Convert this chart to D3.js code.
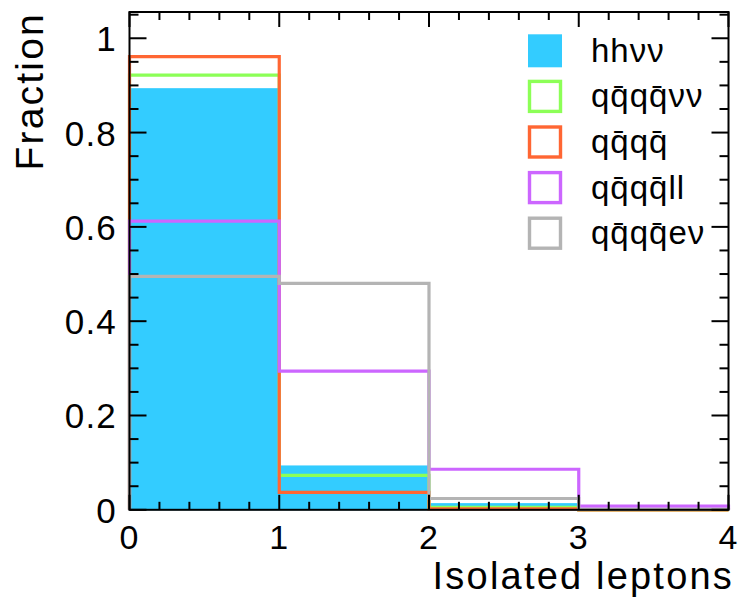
<!DOCTYPE html>
<html>
<head>
<meta charset="utf-8">
<script src="https://cdn.jsdelivr.net/npm/d3@7"></script>
<style>
  html, body { margin: 0; padding: 0; background: #fff; }
  text { font-family: "Liberation Sans", Arial, Helvetica, sans-serif; fill: #000; }
</style>
</head>
<body>
<svg id="chart" width="741" height="604"></svg>
<script>
// ---- data ----
const binEdges = [0, 1, 2, 3, 4];
const seriesNames = ["hhνν", "qq̄qq̄νν", "qq̄qq̄", "qq̄qq̄ll", "qq̄qq̄eν"];
const hhvv      = [0.893, 0.093, 0.013, 0.001];
const qqqqvv    = [0.922, 0.073, 0.005, 0.000];
const qqqq      = [0.961, 0.037, 0.002, 0.000];
const qqqqll    = [0.612, 0.294, 0.086, 0.008];
const qqqqev    = [0.495, 0.480, 0.024, 0.001];
const seriesColors = ["#33ccff", "#8cff57", "#ff6633", "#cc66ff", "#b4b4b4"];
const xTickValues = [0, 1, 2, 3, 4];
const yTickValues = [0, 0.2, 0.4, 0.6, 0.8, 1];
const yTickLabels = ["0", "0.2", "0.4", "0.6", "0.8", "1"];
const xTitle = "Isolated leptons";
const yTitle = "Fraction";

const seriesValues = [hhvv, qqqqvv, qqqq, qqqqll, qqqqev];

// ---- layout ----
const svg = d3.select("#chart");
const L = 129.5, R = 728.5, T = 12, B = 509.8;
const x = d3.scaleLinear().domain([0, 4]).range([L, R]);
const y = d3.scaleLinear().domain([0, 1.0557]).range([B, T]);

function stepPoints(vals) {
  const pts = [[binEdges[0], 0]];
  vals.forEach((v, i) => {
    pts.push([binEdges[i], v]);
    pts.push([binEdges[i + 1], v]);
  });
  pts.push([binEdges[binEdges.length - 1], 0]);
  return pts;
}
const line = d3.line().x(d => x(d[0])).y(d => y(d[1]));

const g = svg.append("g");
// filled hhvv
g.append("path")
  .attr("d", line(stepPoints(hhvv)) + "Z")
  .attr("fill", seriesColors[0])
  .attr("stroke", seriesColors[0])
  .attr("stroke-width", 1);

// outlined others
for (let s = 1; s < seriesValues.length; s++) {
  g.append("path")
    .attr("d", line(stepPoints(seriesValues[s])))
    .attr("fill", "none")
    .attr("stroke", seriesColors[s])
    .attr("stroke-width", 3.2)
    .attr("stroke-linejoin", "miter");
}

// ---- axes (ticks inward on all four sides) ----
const xMinor = d3.range(0, 4.0001, 0.2);
const yMinor = d3.range(0, 1.0501, 0.05);
const tk = svg.append("g").attr("stroke", "#000").attr("stroke-width", 2);
xMinor.forEach(v => {
  const major = Math.abs(v - Math.round(v)) < 1e-6;
  const len = major ? 15 : 8;
  tk.append("line").attr("x1", x(v)).attr("x2", x(v)).attr("y1", B).attr("y2", B - len);
  tk.append("line").attr("x1", x(v)).attr("x2", x(v)).attr("y1", T).attr("y2", T + len);
});
yMinor.forEach(v => {
  const major = Math.abs(v * 5 - Math.round(v * 5)) < 1e-6;
  const len = major ? 17 : 9;
  tk.append("line").attr("x1", L).attr("x2", L + len).attr("y1", y(v)).attr("y2", y(v));
  tk.append("line").attr("x1", R).attr("x2", R - len).attr("y1", y(v)).attr("y2", y(v));
});

// frame
svg.append("rect")
  .attr("x", L).attr("y", T).attr("width", R - L).attr("height", B - T)
  .attr("fill", "none").attr("stroke", "#000").attr("stroke-width", 2);

// tick labels
svg.append("g").selectAll("text").data(xTickValues).join("text")
  .attr("x", d => x(d)).attr("y", 549)
  .attr("text-anchor", "middle")
  .attr("font-size", 34)
  .attr("letter-spacing", 1.2)
  .text(d => d);
svg.append("g").selectAll("text").data(yTickValues).join("text")
  .attr("x", 117).attr("y", d => y(d) + 13)
  .attr("text-anchor", "end")
  .attr("font-size", 35)
  .attr("letter-spacing", 1.2)
  .text((d, i) => yTickLabels[i]);

// axis titles
svg.append("text")
  .attr("x", 734).attr("y", 589)
  .attr("text-anchor", "end")
  .attr("font-size", 38)
  .attr("letter-spacing", 2.2)
  .text(xTitle);
svg.append("text")
  .attr("transform", "translate(43,12) rotate(-90)")
  .attr("text-anchor", "end")
  .attr("font-size", 39)
  .attr("letter-spacing", 2.2)
  .text(yTitle);

// ---- legend ----
const legY0 = 50.8, legDy = 45.6;
const leg = svg.append("g");
seriesNames.forEach((name, i) => {
  const cy = legY0 + i * legDy;
  if (i === 0) {
    leg.append("rect").attr("x", 528).attr("y", cy - 16.5).attr("width", 34).attr("height", 33)
      .attr("fill", seriesColors[i]);
  } else {
    leg.append("rect").attr("x", 529.5).attr("y", cy - 15).attr("width", 31).attr("height", 30)
      .attr("fill", "none").attr("stroke", seriesColors[i]).attr("stroke-width", 3.4);
  }
  leg.append("text")
    .attr("x", 591).attr("y", cy + 11)
    .attr("font-size", 33)
    .attr("letter-spacing", 1)
    .text(name);
});
</script>
</body>
</html>
